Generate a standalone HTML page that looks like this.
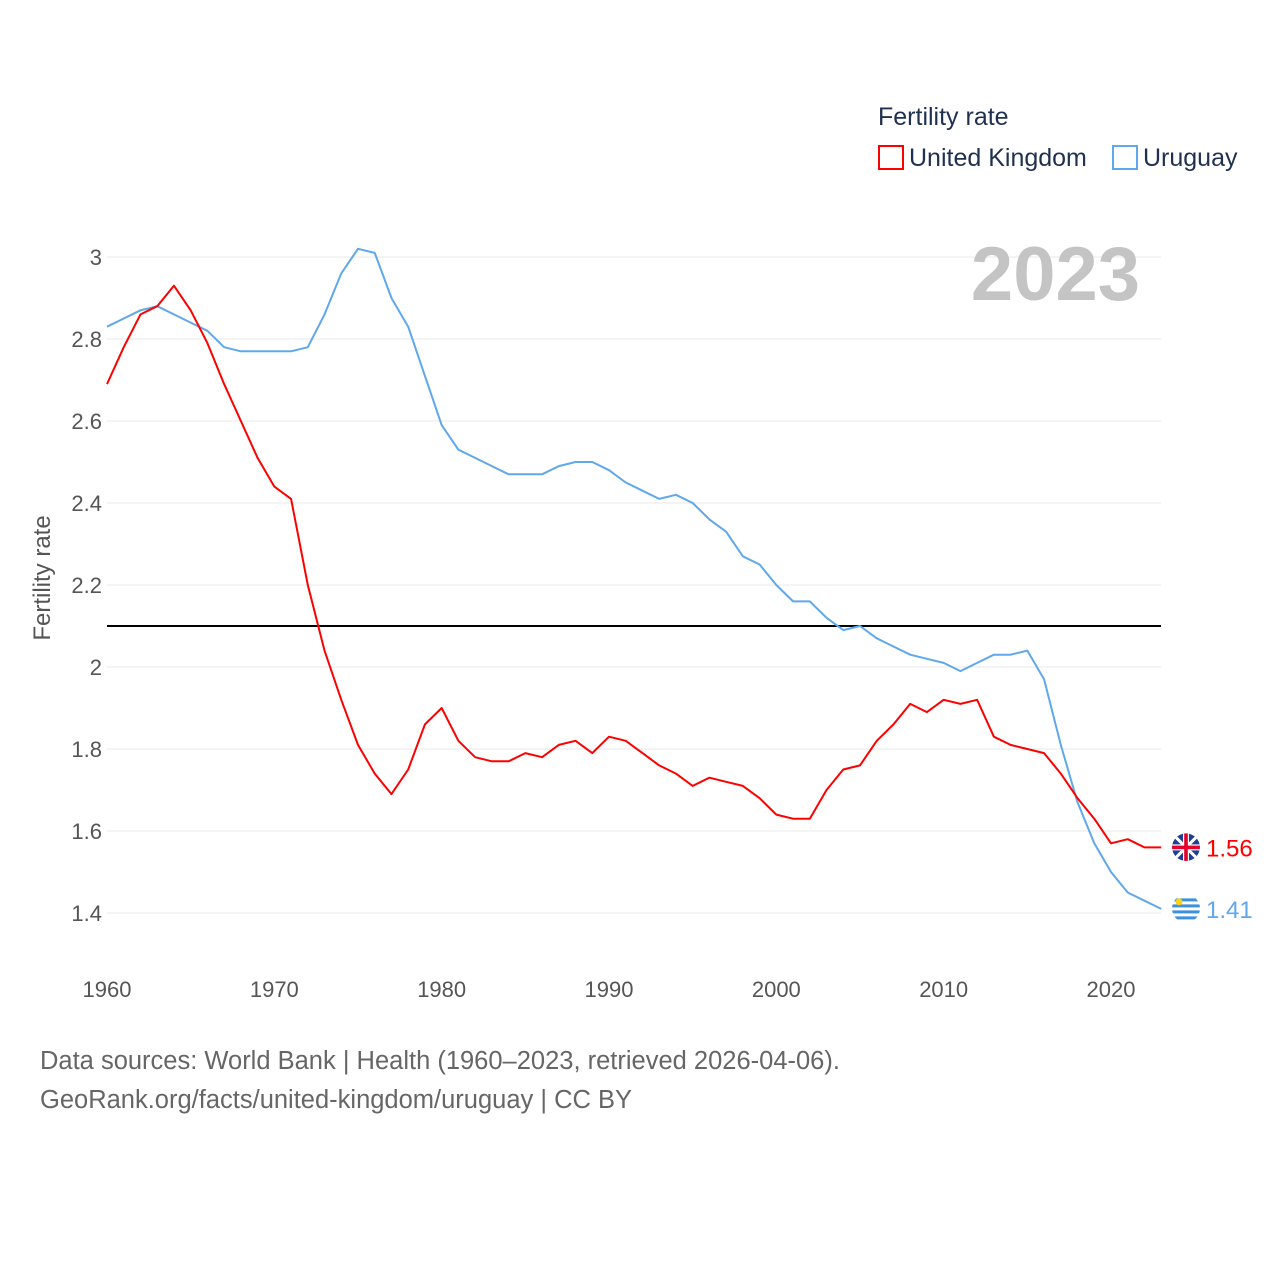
<!DOCTYPE html>
<html><head><meta charset="utf-8"><style>
body{margin:0;background:#fff;font-family:"Liberation Sans",sans-serif}
svg text{font-family:"Liberation Sans",sans-serif}
</style></head><body>
<svg width="1280" height="1280">
<defs>
<clipPath id="clipUK"><circle cx="1186" cy="847" r="14"/></clipPath>
<clipPath id="clipUY"><circle cx="1186" cy="908.5" r="14"/></clipPath>
</defs>
<g id="grid"></g>
<g id="lines"></g>
<text x="1140" y="300" text-anchor="end" font-size="76" font-weight="bold" fill="#c4c4c4">2023</text>
<text x="878" y="125" font-size="25" fill="#1f3050">Fertility rate</text>
<rect x="879" y="146" width="24" height="23" fill="none" stroke="#ff0000" stroke-width="2"/>
<text x="909" y="166" font-size="25" fill="#1f3050">United Kingdom</text>
<rect x="1113" y="146" width="24" height="23" fill="none" stroke="#5fa8ec" stroke-width="2"/>
<text x="1143" y="166" font-size="25" fill="#1f3050">Uruguay</text>
<text transform="translate(50,578) rotate(-90)" text-anchor="middle" font-size="24" fill="#555">Fertility rate</text>
<text x="40" y="1069" font-size="25.5" fill="#666">Data sources: World Bank | Health (1960–2023, retrieved 2026-04-06).</text>
<text x="40" y="1108" font-size="25.5" fill="#666">GeoRank.org/facts/united-kingdom/uruguay | CC BY</text>
</svg>
<script>
const years=[];for(let y=1960;y<=2023;y++)years.push(y);
const ukValues=[2.69,2.78,2.86,2.88,2.93,2.87,2.79,2.69,2.60,2.51,2.44,2.41,2.20,2.04,1.92,1.81,1.74,1.69,1.75,1.86,1.90,1.82,1.78,1.77,1.77,1.79,1.78,1.81,1.82,1.79,1.83,1.82,1.79,1.76,1.74,1.71,1.73,1.72,1.71,1.68,1.64,1.63,1.63,1.70,1.75,1.76,1.82,1.86,1.91,1.89,1.92,1.91,1.92,1.83,1.81,1.80,1.79,1.74,1.68,1.63,1.57,1.58,1.56,1.56];
const uyValues=[2.83,2.85,2.87,2.88,2.86,2.84,2.82,2.78,2.77,2.77,2.77,2.77,2.78,2.86,2.96,3.02,3.01,2.90,2.83,2.71,2.59,2.53,2.51,2.49,2.47,2.47,2.47,2.49,2.50,2.50,2.48,2.45,2.43,2.41,2.42,2.40,2.36,2.33,2.27,2.25,2.20,2.16,2.16,2.12,2.09,2.10,2.07,2.05,2.03,2.02,2.01,1.99,2.01,2.03,2.03,2.04,1.97,1.81,1.67,1.57,1.50,1.45,1.43,1.41];
const yTicks=[1.4,1.6,1.8,2,2.2,2.4,2.6,2.8,3];
const xTicks=[1960,1970,1980,1990,2000,2010,2020];
const refValue=2.1;
const X=y=>107+(y-1960)*1004/60;
const Y=v=>257+(3-v)*410;
const NS='http://www.w3.org/2000/svg';
const mk=(t,a,p)=>{const e=document.createElementNS(NS,t);for(const k in a)e.setAttribute(k,a[k]);p.appendChild(e);return e;};
const g=document.getElementById('grid'),L=document.getElementById('lines');
yTicks.forEach(v=>{
 const l=mk('line',{x1:107,x2:1161,y1:Y(v),y2:Y(v),stroke:'#e8e8e8','stroke-width':1},g);
 
 
 const t=mk('text',{x:102,y:Y(v)+8,'text-anchor':'end','font-size':22,fill:'#555'},g);t.textContent=String(v);
 
 
});
xTicks.forEach(v=>{
 const t=mk('text',{x:X(v),y:997,'text-anchor':'middle','font-size':22,fill:'#555'},g);t.textContent=v;
 
 
});
const ref=mk('line',{x1:107,x2:1161,y1:Y(refValue),y2:Y(refValue),stroke:'#000','stroke-width':2},L);


function series(vals,color,name){
 const p=mk('polyline',{points:vals.map((v,i)=>X(years[i])+','+Y(v)).join(' '),fill:'none',stroke:color,'stroke-width':2,'stroke-linejoin':'round'},L);
 
 
}
series(uyValues,'#5fa8ec','line-uruguay');
series(ukValues,'#ff0000','line-uk');
function endLabel(vals,color,name,flag){
 const v=vals[vals.length-1],cy=Y(v);
 const fg=mk('g',{'clip-path':flag==='uk'?'url(#clipUK)':'url(#clipUY)'},L);
 
 
 mk('circle',{cx:1186,cy:cy,r:14,fill:flag==='uk'?'#1f3f95':'#fff'},fg);
 if(flag==='uk'){
  mk('line',{x1:1176,y1:cy-10,x2:1196,y2:cy+10,stroke:'#fff','stroke-width':3},fg);
  mk('line',{x1:1196,y1:cy-10,x2:1176,y2:cy+10,stroke:'#fff','stroke-width':3},fg);
  mk('rect',{x:1172,y:cy-3,width:28,height:6,fill:'#fff'},fg);
  mk('rect',{x:1183,y:cy-14,width:6,height:28,fill:'#fff'},fg);
  mk('rect',{x:1172,y:cy-1.8,width:28,height:3.6,fill:'#e4002b'},fg);
  mk('rect',{x:1184.2,y:cy-14,width:3.6,height:28,fill:'#e4002b'},fg);
 }else{
  [-9,-3,3,9].forEach(d=>mk('rect',{x:1172,y:cy+d-1.5,width:28,height:3,fill:'#3d8fe0'},fg));
  mk('circle',{cx:1179,cy:cy-7,r:3.5,fill:'#fcd116'},fg);
 }
 const t=mk('text',{x:1206,y:cy+9,'font-size':24,fill:color},L);t.textContent=v.toFixed(2);
 
 
}
endLabel(ukValues,'#ff0000','uk','uk');
endLabel(uyValues,'#5fa8ec','uruguay','uy');
</script>
</body></html>
